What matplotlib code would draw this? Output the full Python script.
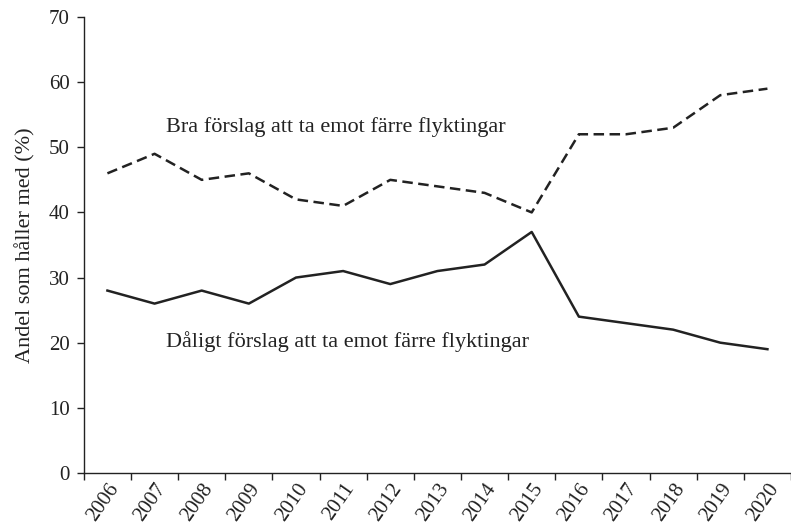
import matplotlib
matplotlib.use("Agg")
import matplotlib.pyplot as plt
import numpy as np

years = [str(y) for y in range(2006, 2021)]
bra = [46, 49, 45, 46, 42, 41, 45, 44, 43, 40, 52, 52, 53, 58, 59]
daligt = [28, 26, 28, 26, 30, 31, 29, 31, 32, 37, 24, 23, 22, 20, 19]

plt.rcParams["font.family"] = ["Liberation Serif", "DejaVu Serif"]
ink = "#222222"

fig = plt.figure(figsize=(7.91, 5.32), dpi=100)
ax = fig.add_axes([0.106, 0.111, 0.894, 0.857])

x = np.arange(len(years))
ax.plot(x, bra, color=ink, lw=1.8, ls=(0, (4.2, 2.2)))
ax.plot(x, daligt, color=ink, lw=1.8)

# etiketter direkt vid linjerna
ax.text(1.25, 53.1, "Bra förslag att ta emot färre flyktingar",
        fontsize=16, color=ink, va="center", ha="left")
ax.text(1.25, 20.1, "Dåligt förslag att ta emot färre flyktingar",
        fontsize=16, color=ink, va="center", ha="left")

ax.set_ylim(0, 70)
ax.set_yticks(range(0, 71, 10))
ax.set_xlim(-0.5, 14.38)

# ticks mellan kategorierna, etiketter vid mitten
ax.set_xticks(np.arange(-0.5, 15, 1.0))
ax.set_xticklabels([])
ax.set_xticks(x, minor=True)
ax.set_xticklabels(years, minor=True, rotation=55, ha="right",
                   rotation_mode="anchor", fontsize=15, color=ink)
ax.tick_params(axis="x", which="minor", length=0, pad=5)
ax.tick_params(axis="x", which="major", length=5, width=1, color=ink)
ax.tick_params(axis="y", length=5, width=1, color=ink, labelsize=15,
               labelcolor=ink, pad=5)

ax.set_ylabel("Andel som håller med (%)", fontsize=16, color=ink, labelpad=10)

for s in ["top", "right"]:
    ax.spines[s].set_visible(False)
for s in ["left", "bottom"]:
    ax.spines[s].set_color(ink)
    ax.spines[s].set_linewidth(1)

fig.savefig("out.png", dpi=100)
